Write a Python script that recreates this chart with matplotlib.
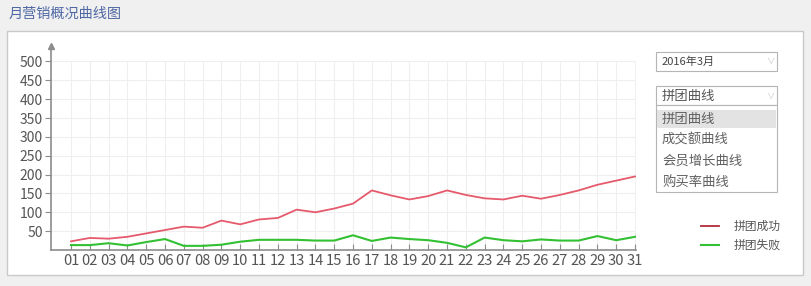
import matplotlib
matplotlib.use("Agg")
import matplotlib.pyplot as plt
from matplotlib.patches import Rectangle

plt.rcParams['font.family'] = ['Noto Sans CJK SC', 'DejaVu Sans']

# data
days = ["%02d" % d for d in range(1, 32)]
success = [23, 32, 30, 35, 44, 53, 62, 59, 78, 68, 81, 85, 107, 100, 110,
           123, 158, 145, 134, 143, 158, 146, 137, 134, 144, 136, 146, 158,
           173, 184, 195]
fail = [13, 13, 18, 12, 21, 29, 11, 11, 14, 22, 27, 27, 27, 25, 25,
        39, 24, 33, 29, 26, 19, 7, 33, 26, 23, 28, 25, 25, 37, 26, 35]
yticks = [50, 100, 150, 200, 250, 300, 350, 400, 450, 500]
series_names = ["拼团成功", "拼团失败"]
month_label = "2016年3月"
curve_options = ["拼团曲线", "成交额曲线", "会员增长曲线", "购买率曲线"]

W, H = 812, 286
fig = plt.figure(figsize=(W / 100, H / 100), dpi=100)
fig.patch.set_facecolor("#f0f0f0")


def fx(x):
    return x / W


def fy(y):
    return 1 - y / H


def box(x0, y0, x1, y1, **kw):
    r = Rectangle((fx(x0), fy(y1)), fx(x1 - x0), (y1 - y0) / H,
                  transform=fig.transFigure, **kw)
    fig.add_artist(r)
    return r


# panel
box(7, 31, 803, 275, facecolor="white", edgecolor="#c9c9c9", linewidth=1, zorder=0)
fig.text(fx(9), fy(14), "月营销概况曲线图", fontsize=10.2, color="#4f68a4",
         va="center", ha="left")

# chart
ax = fig.add_axes([fx(51), fy(250), fx(636 - 51), (250 - 46) / H])
ax.set_facecolor("none")
x = list(range(len(days)))
ax.set_xlim(-1.064, 30.05)
ax.set_ylim(0, 541)

grid_c = "#efefef"
ax.hlines(yticks, -1.064, 30, colors=grid_c, linewidth=0.8, zorder=0)
ax.vlines(x, 0, 500, colors=grid_c, linewidth=0.8, zorder=0)

l1, = ax.plot(x, success, color="#e55a6c", linewidth=1.3, label=series_names[0])
l2, = ax.plot(x, fail, color="#33c033", linewidth=1.5, label=series_names[1])

for s in ["top", "right"]:
    ax.spines[s].set_visible(False)
for s in ["left", "bottom"]:
    ax.spines[s].set_color("#8c8c8c")
    ax.spines[s].set_linewidth(1.2)
ax.plot(0, 1, marker="^", markersize=4, color="#8c8c8c", transform=ax.transAxes,
        clip_on=False)

ax.set_xticks(x)
ax.set_xticklabels(days)
ax.set_yticks(yticks)
ax.tick_params(axis="x", direction="in", length=4, color="#8c8c8c",
               labelsize=10.6, labelcolor="#555555", pad=3)
ax.tick_params(axis="y", direction="out", length=4, color="#8c8c8c",
               labelsize=10, labelcolor="#555555", pad=2)

# legend
leg = fig.legend(handles=[l1, l2], labels=series_names, loc="upper left",
                 bbox_to_anchor=(fx(695), fy(214)), frameon=False,
                 fontsize=8.5, handlelength=1.5, handletextpad=1.3,
                 labelspacing=0.5, borderpad=0)
leg.legend_handles[0].set_color("#b02c38")
for t in leg.get_texts():
    t.set_color("#555555")

# dropdowns
box(656, 52, 777, 71, facecolor="white", edgecolor="#b5b5b5", linewidth=0.8)
fig.text(fx(662), fy(61.5), month_label, fontsize=8, color="#444444", va="center")
fig.text(fx(770), fy(61.5), "∨", fontsize=6, color="#c8c8c8", va="center", ha="center")

box(656, 86, 777, 105, facecolor="white", edgecolor="#b5b5b5", linewidth=0.8)
fig.text(fx(662), fy(96), curve_options[0], fontsize=9.6, color="#555555", va="center")
fig.text(fx(770), fy(96), "∨", fontsize=6, color="#c8c8c8", va="center", ha="center")

box(656, 105, 777, 192, facecolor="white", edgecolor="#b5b5b5", linewidth=0.8)
box(657, 110, 776, 128, facecolor="#e3e3e3", edgecolor="none")
for i, name in enumerate(curve_options):
    fig.text(fx(662), fy(119 + i * 21), name, fontsize=9.6, color="#606060",
             va="center")

fig.savefig("out.png", dpi=100, facecolor=fig.get_facecolor())
